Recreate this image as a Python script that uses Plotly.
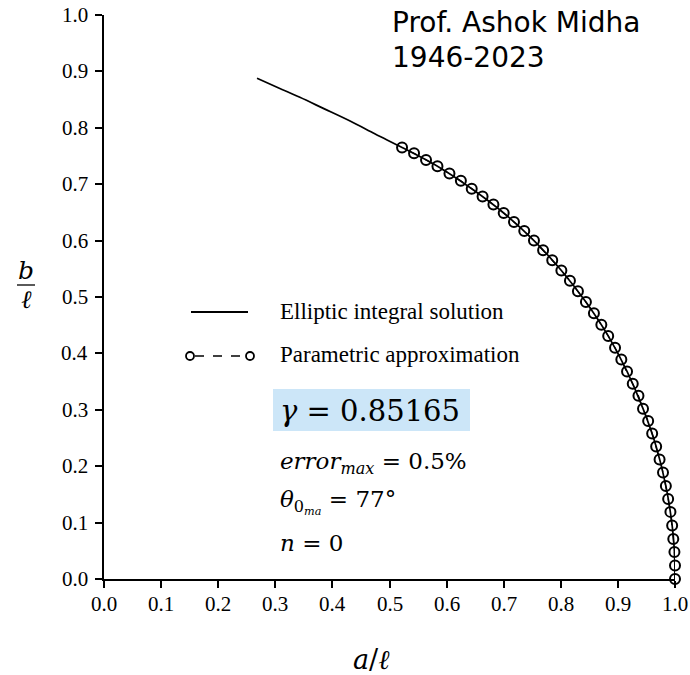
import plotly.graph_objects as go

# Elliptic integral solution
ell_a = [1.000, 0.999, 0.995, 0.984, 0.967, 0.944, 0.916, 0.883, 0.844, 0.801,
         0.753, 0.700, 0.644, 0.584, 0.522, 0.475, 0.431, 0.385, 0.343, 0.305, 0.268]
ell_b = [0.000, 0.048, 0.095, 0.165, 0.235, 0.302, 0.368, 0.431, 0.491, 0.547,
         0.600, 0.649, 0.692, 0.732, 0.765, 0.789, 0.812, 0.834, 0.854, 0.871, 0.888]

# Parametric approximation (circles)
par_a = [1.000, 1.000, 0.999, 0.997, 0.995, 0.992, 0.988, 0.984, 0.979, 0.973,
         0.967, 0.960, 0.953, 0.944, 0.936, 0.926, 0.916, 0.906, 0.895, 0.883,
         0.871, 0.858, 0.844, 0.830, 0.816, 0.801, 0.785, 0.769, 0.753, 0.736,
         0.718, 0.700, 0.682, 0.663, 0.644, 0.625, 0.605, 0.584, 0.564, 0.543, 0.522]
par_b = [0.000, 0.024, 0.048, 0.071, 0.095, 0.119, 0.142, 0.165, 0.189, 0.212,
         0.235, 0.258, 0.280, 0.302, 0.325, 0.346, 0.368, 0.389, 0.410, 0.431,
         0.451, 0.471, 0.491, 0.510, 0.529, 0.547, 0.565, 0.583, 0.600, 0.617,
         0.633, 0.649, 0.664, 0.678, 0.692, 0.706, 0.719, 0.732, 0.743, 0.755, 0.765]

tick_vals = [0.0, 0.1, 0.2, 0.3, 0.4, 0.5, 0.6, 0.7, 0.8, 0.9, 1.0]
tick_text = ["0.0", "0.1", "0.2", "0.3", "0.4", "0.5", "0.6", "0.7", "0.8", "0.9", "1.0"]

W, H = 690, 675
L, R, T, B = 104, 15, 15, 96
pw, ph = W - L - R, H - T - B


def px(x):
    return (x - L) / pw


def py(y):
    return (H - B - y) / ph


serif = "Liberation Serif"

fig = go.Figure()
fig.add_trace(go.Scatter(x=ell_a, y=ell_b, mode="lines", line=dict(color="black", width=1.7),
                         showlegend=False, hoverinfo="skip", line_shape="spline"))
fig.add_trace(go.Scatter(x=par_a, y=par_b, mode="lines+markers",
                         line=dict(color="black", width=1.2, dash="dash"),
                         marker=dict(symbol="circle-open", size=10, color="black", line=dict(width=2)),
                         cliponaxis=False, showlegend=False, hoverinfo="skip"))

shapes = []
annotations = []

# tick labels (serif, placed through the axes' scales)
for v, t in zip(tick_vals, tick_text):
    annotations.append(dict(xref="x", yref="paper", x=v, y=py(604), xanchor="center", yanchor="middle",
                            text=t, showarrow=False, font=dict(family=serif, size=21, color="black")))
    annotations.append(dict(xref="paper", yref="y", x=px(90), y=v, xanchor="right", yanchor="middle",
                            text=t, showarrow=False, font=dict(family=serif, size=21, color="black")))

# legend (manual)
shapes.append(dict(type="line", xref="paper", yref="paper", x0=px(191), x1=px(248), y0=py(312), y1=py(312),
                   line=dict(color="black", width=2)))
shapes.append(dict(type="line", xref="paper", yref="paper", x0=px(195), x1=px(246), y0=py(356), y1=py(356),
                   line=dict(color="black", width=1.5, dash="dash")))
for cx in (190, 250):
    shapes.append(dict(type="circle", xref="paper", yref="paper", x0=px(cx - 4), x1=px(cx + 4),
                       y0=py(356 + 4), y1=py(356 - 4), line=dict(color="black", width=1.8),
                       fillcolor="white"))
annotations.append(dict(xref="paper", yref="paper", x=px(278), y=py(311), xanchor="left", yanchor="middle",
                        text="Elliptic integral solution", showarrow=False,
                        font=dict(family=serif, size=23, color="black")))
annotations.append(dict(xref="paper", yref="paper", x=px(278), y=py(354), xanchor="left", yanchor="middle",
                        text="Parametric approximation", showarrow=False,
                        font=dict(family=serif, size=23, color="black")))

# gamma box
shapes.append(dict(type="rect", xref="paper", yref="paper", x0=px(273), x1=px(470), y0=py(431), y1=py(389),
                   fillcolor="#cce6f8", line=dict(width=0), layer="below"))
math = "DejaVu Serif"
annotations.append(dict(xref="paper", yref="paper", x=px(278), y=py(411), xanchor="left", yanchor="middle",
                        text="<i>γ</i> = 0.85165", showarrow=False,
                        font=dict(family=math, size=29, color="black")))
annotations.append(dict(xref="paper", yref="paper", x=px(278), y=py(463), xanchor="left", yanchor="middle",
                        text="<i>error</i><sub><i>max</i></sub> = 0.5%", showarrow=False,
                        font=dict(family=math, size=23, color="black")))
annotations.append(dict(xref="paper", yref="paper", x=px(278), y=py(502), xanchor="left", yanchor="middle",
                        text="<i>θ</i><sub>0<sub><i>ma</i></sub></sub> = 77°", showarrow=False,
                        font=dict(family=math, size=23, color="black")))
annotations.append(dict(xref="paper", yref="paper", x=px(278), y=py(543), xanchor="left", yanchor="middle",
                        text="<i>n</i> = 0", showarrow=False,
                        font=dict(family=math, size=23, color="black")))

# title text
annotations.append(dict(xref="paper", yref="paper", x=px(390), y=py(22), xanchor="left", yanchor="middle",
                        text="Prof. Ashok Midha", showarrow=False,
                        font=dict(family="DejaVu Sans", size=28, color="black")))
annotations.append(dict(xref="paper", yref="paper", x=px(390), y=py(57), xanchor="left", yanchor="middle",
                        text="1946-2023", showarrow=False,
                        font=dict(family="DejaVu Sans", size=28, color="black")))

# axis labels
annotations.append(dict(xref="paper", yref="paper", x=px(26), y=py(270), xanchor="center", yanchor="middle",
                        text="<i>b</i>", showarrow=False, font=dict(family=math, size=25, color="black")))
shapes.append(dict(type="line", xref="paper", yref="paper", x0=px(17), x1=px(35), y0=py(285), y1=py(285),
                   line=dict(color="black", width=1.3)))
annotations.append(dict(xref="paper", yref="paper", x=px(26), y=py(300), xanchor="center", yanchor="middle",
                        text="<i>ℓ</i>", showarrow=False, font=dict(family=math, size=25, color="black")))
annotations.append(dict(xref="paper", yref="paper", x=px(371), y=py(659), xanchor="center", yanchor="middle",
                        text="<i>a</i>/<i>ℓ</i>", showarrow=False, font=dict(family=math, size=27, color="black")))

axis_x = dict(range=[0, 1], showgrid=False, zeroline=False, showline=True, linecolor="black",
              linewidth=1.5, ticks="outside", ticklen=7, tickwidth=1.5, tickcolor="black",
              tickmode="array", tickvals=tick_vals, showticklabels=False, automargin=False)
axis_y = dict(axis_x)

fig.update_layout(width=W, height=H, margin=dict(l=L, r=R, t=T, b=B), plot_bgcolor="white",
                  paper_bgcolor="white", shapes=shapes, annotations=annotations,
                  font=dict(family=serif, size=21, color="black"),
                  xaxis=axis_x, yaxis=axis_y)
fig.write_html("out.html")
